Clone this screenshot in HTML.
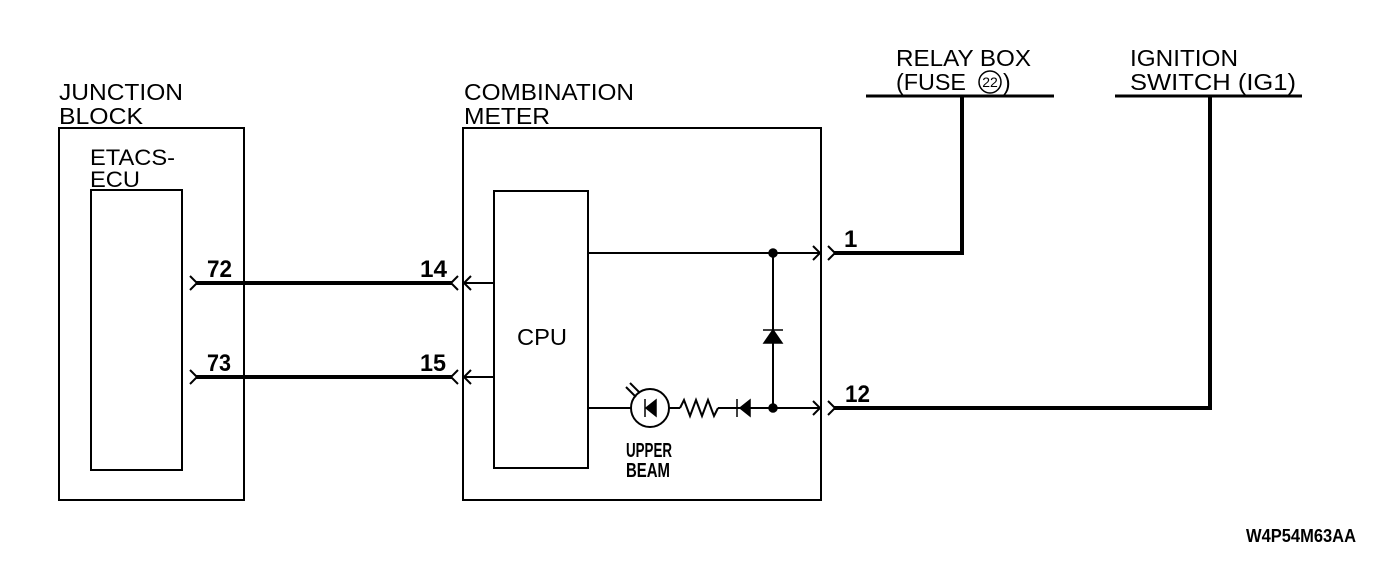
<!DOCTYPE html>
<html><head><meta charset="utf-8"><style>
html,body{margin:0;padding:0;background:#fff;width:1392px;height:586px;overflow:hidden}
svg{display:block}
text{font-family:"Liberation Sans",sans-serif;fill:#000}
.l{font-size:23px}
.b{font-size:24px;font-weight:bold}
</style></head><body>
<svg width="1392" height="586" viewBox="0 0 1392 586" xmlns="http://www.w3.org/2000/svg">
<g fill="none" stroke="#000" stroke-width="2">
<rect x="59" y="128" width="185" height="372"/>
<rect x="91" y="190" width="91" height="280"/>
<rect x="463" y="128" width="358" height="372"/>
<rect x="494" y="191" width="94" height="277"/>
<line x1="588" y1="253" x2="821" y2="253"/>
<line x1="588" y1="408" x2="631" y2="408"/>
<line x1="669" y1="408" x2="680" y2="408"/>
<line x1="718" y1="408" x2="821" y2="408"/>
<line x1="463" y1="283" x2="494" y2="283"/>
<line x1="463" y1="377" x2="494" y2="377"/>
<line x1="773" y1="253" x2="773" y2="408"/>
<circle cx="650" cy="408" r="19"/>
<polyline points="680,408 684,400 690,416 696,400 702,416 708,400 714,416 718,408"/>
<line x1="640" y1="393" x2="630" y2="383"/>
<line x1="636" y1="397" x2="626" y2="387"/>
<polyline points="190,276 197,283 190,290"/>
<polyline points="190,370 197,377 190,384"/>
<polyline points="458,276 451,283 458,290"/>
<polyline points="471,276 464,283 471,290"/>
<polyline points="458,370 451,377 458,384"/>
<polyline points="471,370 464,377 471,384"/>
<polyline points="813,246 820,253 813,260"/>
<polyline points="828,246 835,253 828,260"/>
<polyline points="813,401 820,408 813,415"/>
<polyline points="828,401 835,408 828,415"/>
</g>
<g fill="none" stroke="#000" stroke-width="4">
<line x1="196" y1="283" x2="452" y2="283"/>
<line x1="196" y1="377" x2="452" y2="377"/>
<polyline points="834,253 962,253 962,96"/>
<polyline points="834,408 1210,408 1210,96"/>
</g>
<g stroke="#000" stroke-width="3">
<line x1="866" y1="96" x2="1054" y2="96"/>
<line x1="1115" y1="96" x2="1302" y2="96"/>
</g>
<g fill="#000" stroke="#000" stroke-width="1.5">
<circle cx="773" cy="253" r="4"/>
<circle cx="773" cy="408" r="4"/>
<polygon points="764,343 782,343 773,330"/>
<line x1="763" y1="330" x2="783" y2="330"/>
<polygon points="646,408 656,400 656,416"/>
<line x1="645" y1="399" x2="645" y2="417"/>
<polygon points="740,408 750,400 750,416"/>
<line x1="737" y1="399" x2="737" y2="417"/>
</g>
<text class="l" x="59" y="100" textLength="124" lengthAdjust="spacingAndGlyphs">JUNCTION</text>
<text class="l" x="59" y="124" textLength="84" lengthAdjust="spacingAndGlyphs">BLOCK</text>
<text class="l" x="90" y="165" textLength="85" lengthAdjust="spacingAndGlyphs" style="font-size:22px">ETACS-</text>
<text class="l" x="90" y="187" textLength="50" lengthAdjust="spacingAndGlyphs" style="font-size:22px">ECU</text>
<text class="l" x="464" y="100" textLength="170" lengthAdjust="spacingAndGlyphs">COMBINATION</text>
<text class="l" x="464" y="124" textLength="86" lengthAdjust="spacingAndGlyphs">METER</text>
<text class="l" x="517" y="345" textLength="50" lengthAdjust="spacingAndGlyphs">CPU</text>
<text class="l" x="896" y="66" textLength="135" lengthAdjust="spacingAndGlyphs">RELAY BOX</text>
<text class="l" x="896" y="90" textLength="70" lengthAdjust="spacingAndGlyphs">(FUSE</text>
<circle cx="990" cy="82" r="11" fill="none" stroke="#000" stroke-width="1.5"/>
<text x="990" y="87" text-anchor="middle" style="font-size:14px">22</text>
<text class="l" x="1003" y="90">)</text>
<text class="l" x="1130" y="66" textLength="108" lengthAdjust="spacingAndGlyphs">IGNITION</text>
<text class="l" x="1130" y="90" textLength="166" lengthAdjust="spacingAndGlyphs">SWITCH (IG1)</text>
<text class="b" x="207" y="277" textLength="25" lengthAdjust="spacingAndGlyphs">72</text>
<text class="b" x="207" y="371" textLength="24" lengthAdjust="spacingAndGlyphs">73</text>
<text class="b" x="420" y="277" textLength="27" lengthAdjust="spacingAndGlyphs">14</text>
<text class="b" x="420" y="371" textLength="26" lengthAdjust="spacingAndGlyphs">15</text>
<text class="b" x="844" y="247">1</text>
<text class="b" x="845" y="402" textLength="25" lengthAdjust="spacingAndGlyphs">12</text>
<text x="626" y="457" style="font-size:20px;font-weight:bold" textLength="46" lengthAdjust="spacingAndGlyphs">UPPER</text>
<text x="626" y="477" style="font-size:20px;font-weight:bold" textLength="44" lengthAdjust="spacingAndGlyphs">BEAM</text>
<text x="1246" y="542" style="font-size:18px;font-weight:bold" textLength="110" lengthAdjust="spacingAndGlyphs">W4P54M63AA</text>
</svg>
</body></html>
